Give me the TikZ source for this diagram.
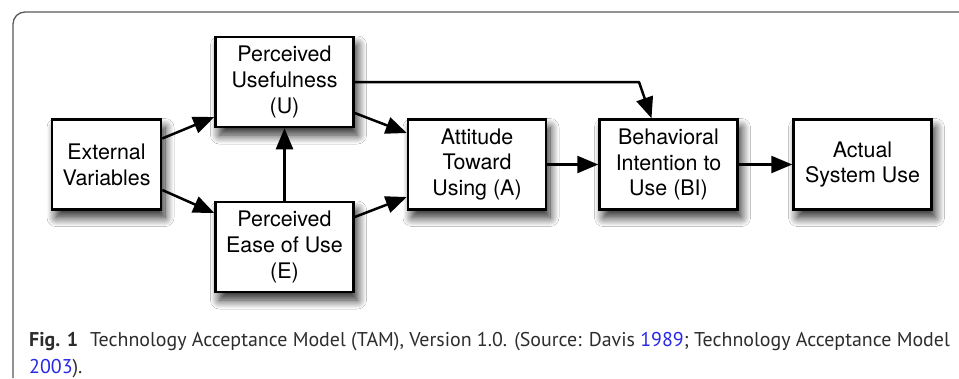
\documentclass[tikz,border=0pt]{standalone}
\usepackage{fontspec}
\setmainfont{TeX Gyre Heros}
\newfontfamily\capfont{PT Sans}
\usetikzlibrary{arrows.meta,shadows.blur,calc}
\definecolor{framegray}{RGB}{90,90,90}
\definecolor{captext}{RGB}{45,45,45}
\definecolor{linkblue}{RGB}{40,40,230}
\tikzset{
  tambox/.style={draw=black, line width=2.5bp, fill=white, align=center,
    font=\fontsize{21.5}{26}\selectfont, inner sep=0pt,
    minimum width=138bp, minimum height=90bp,
    blur shadow={shadow xshift=4bp, shadow yshift=-8bp, shadow blur steps=14, shadow blur radius=9bp, shadow opacity=85}},
  link/.style={line width=2.5bp, -{Triangle[length=21bp,width=17bp]}},
  capline/.style={anchor=base west, inner sep=0pt, text=captext, font=\capfont\fontsize{20}{24}\selectfont}
}
\begin{document}
\begin{tikzpicture}[x=1bp,y=-1bp]
\useasboundingbox (0,0) rectangle (959,378);
\fill[white] (0,0) rectangle (959,378);
\draw[framegray, line width=1.3bp] (13,378) -- (13,24) arc[start angle=180,end angle=270,radius=12] -- (959,12);
\node[tambox, minimum width=109bp] (ev) at (106.5,164.5) {External\\Variables};
\node[tambox] (pu) at (284.5,82) {Perceived\\Usefulness\\(U)};
\node[tambox] (pe) at (284.5,247) {Perceived\\Ease of Use\\(E)};
\node[tambox] (at) at (477,164.5) {Attitude\\Toward\\Using (A)};
\node[tambox] (bi) at (668.5,164.5) {Behavioral\\Intention to\\Use (BI)};
\node[tambox] (as) at (862.5,164.5) {Actual\\System Use};
\coordinate (bend) at (639,82);
\draw[link] ([yshift=26bp]ev.east) -- ([yshift=-35bp]pu.west);
\draw[link] ([yshift=-25.5bp]ev.east) -- ([yshift=34bp]pe.west);
\draw[link] (pe.north) -- (pu.south);
\draw[link] ([yshift=-31bp]pu.east) -- ([yshift=31.5bp]at.west);
\draw[link] ([yshift=30bp]pe.east) -- ([yshift=-32.5bp]at.west);
\draw[link, line join=round] (pu.east) -- (bend) -- ([xshift=-17bp]bi.north);
\draw[link] (at.east) -- (bi.west);
\draw[link] (bi.east) -- (as.west);
\node[capline] (cap1) at (29,346) {\textbf{Fig. 1}\hspace{0.6em}Technology Acceptance Model (TAM), Version 1.0. (Source: Davis \textcolor{linkblue}{1989}; Technology Acceptance Model};
\node[capline] (cap2) at (29,373) {\textcolor{linkblue}{2003}).};
\end{tikzpicture}
\end{document}
